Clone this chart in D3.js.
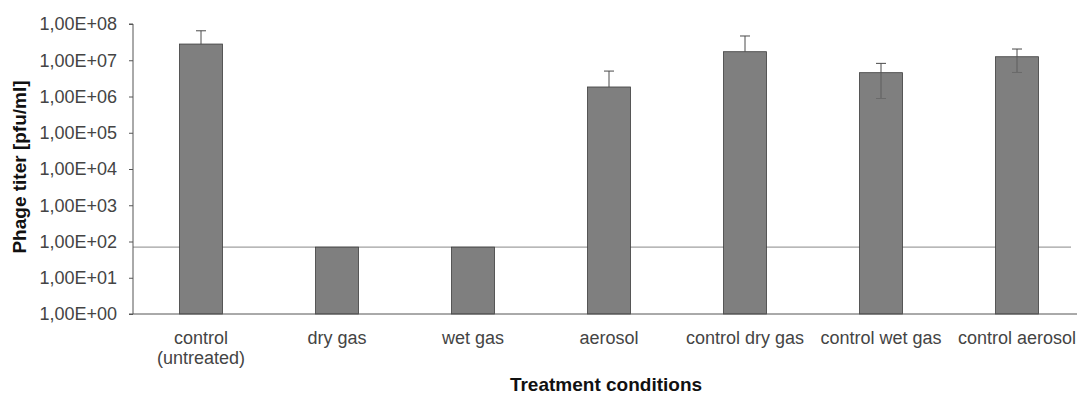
<!DOCTYPE html>
<html>
<head>
<meta charset="utf-8">
<script src="https://cdn.jsdelivr.net/npm/d3@7"></script>
<style>
  html, body { margin: 0; padding: 0; background: #fff; }
  svg { display: block; font-family: Arial, "Liberation Sans", sans-serif; }
</style>
</head>
<body>
<svg id="chart" width="1077" height="394"></svg>
<script>
// Treatment groups (label lines for the category axis)
const categories = ["control (untreated)", "dry gas", "wet gas", "aerosol",
                    "control dry gas", "control wet gas", "control aerosol"];
const categoryLines = [["control", "(untreated)"], ["dry gas"], ["wet gas"], ["aerosol"],
                       ["control dry gas"], ["control wet gas"], ["control aerosol"]];
// Mean phage titer [pfu/ml] and standard deviation per group
const titers = [2.8e7, 70, 70, 1.83e6, 1.72e7, 4.54e6, 1.25e7];
const stdDevs = [3.7e7, 0, 0, 3.2e6, 2.95e7, 3.66e6, 0.79e7];
// Detection limit
const detectionLimit = 70;
// Log axis tick values and labels
const tickValues = [1, 10, 100, 1e3, 1e4, 1e5, 1e6, 1e7, 1e8];
const tickLabels = ["1,00E+00", "1,00E+01", "1,00E+02", "1,00E+03", "1,00E+04",
                    "1,00E+05", "1,00E+06", "1,00E+07", "1,00E+08"];

const svg = d3.select("#chart");
const mLeft = 133, mRight = 1085, mTop = 24, mBottom = 314;

const x = d3.scaleBand().domain(categories).range([mLeft, mRight]).paddingInner(0.684).paddingOuter(0.342);
const y = d3.scaleLog().domain([1, 1e8]).range([mBottom, mTop]);

// detection limit line
svg.append("line")
  .attr("x1", mLeft).attr("x2", 1071)
  .attr("y1", y(detectionLimit)).attr("y2", y(detectionLimit))
  .attr("stroke", "#a0a0a0").attr("stroke-width", 1.2);

// bars
svg.append("g").selectAll("rect")
  .data(categories)
  .join("rect")
  .attr("x", d => x(d))
  .attr("width", x.bandwidth())
  .attr("y", (d, i) => y(titers[i]))
  .attr("height", (d, i) => mBottom - y(titers[i]))
  .attr("fill", "#7f7f7f")
  .attr("stroke", "#3c3c3c")
  .attr("stroke-width", 0.8);

// error bars (upper whisker dark; lower whisker drawn inside the bar)
const eb = svg.append("g");
categories.forEach((c, i) => {
  const sd = stdDevs[i];
  if (!sd) return;
  const cx = x(c) + x.bandwidth() / 2;
  const hi = titers[i] + sd;
  eb.append("line").attr("x1", cx).attr("x2", cx)
    .attr("y1", y(titers[i])).attr("y2", y(hi))
    .attr("stroke", "#4a4a4a").attr("stroke-width", 1);
  eb.append("line").attr("x1", cx - 5).attr("x2", cx + 5)
    .attr("y1", y(hi)).attr("y2", y(hi))
    .attr("stroke", "#4a4a4a").attr("stroke-width", 1);
  const lo = titers[i] - sd;
  if (lo > 1) {
    eb.append("line").attr("x1", cx).attr("x2", cx)
      .attr("y1", y(titers[i])).attr("y2", y(lo))
      .attr("stroke", "#5e5e5e").attr("stroke-width", 1);
    eb.append("line").attr("x1", cx - 5).attr("x2", cx + 5)
      .attr("y1", y(lo)).attr("y2", y(lo))
      .attr("stroke", "#6a6a6a").attr("stroke-width", 1);
  }
});

// y axis
const yAxis = d3.axisLeft(y).tickValues(tickValues)
  .tickFormat((d, i) => tickLabels[i]).tickSize(4).tickPadding(12);
const gy = svg.append("g").attr("transform", `translate(${mLeft},0)`).call(yAxis);
gy.select(".domain").attr("stroke", "#555").attr("d", `M-4,${mTop}H0V${mBottom}H-4`);
gy.selectAll(".tick line").attr("stroke", "#555");
gy.selectAll(".tick text").attr("fill", "#444").style("font-size", "18px")
  .style("font-family", "Arial, 'Liberation Sans', sans-serif");

// x axis baseline
svg.append("line").attr("x1", mLeft).attr("x2", 1077)
  .attr("y1", mBottom).attr("y2", mBottom)
  .attr("stroke", "#555").attr("stroke-width", 1);

// category labels
const xl = svg.append("g");
categories.forEach((c, i) => {
  const cx = x(c) + x.bandwidth() / 2;
  const t = xl.append("text").attr("x", cx).attr("y", 344)
    .attr("text-anchor", "middle").attr("fill", "#444")
    .style("font-size", "18px");
  categoryLines[i].forEach((ln, j) => {
    t.append("tspan").attr("x", cx).attr("dy", j === 0 ? 0 : 20).text(ln);
  });
});

// axis titles
svg.append("text").attr("x", 606).attr("y", 391)
  .attr("text-anchor", "middle").attr("font-weight", "bold")
  .attr("fill", "#111").style("font-size", "19px")
  .text("Treatment conditions");

svg.append("text")
  .attr("transform", `translate(26,167) rotate(-90)`)
  .attr("text-anchor", "middle").attr("font-weight", "bold")
  .attr("fill", "#111").style("font-size", "19px")
  .text("Phage titer [pfu/ml]");
</script>
</body>
</html>
